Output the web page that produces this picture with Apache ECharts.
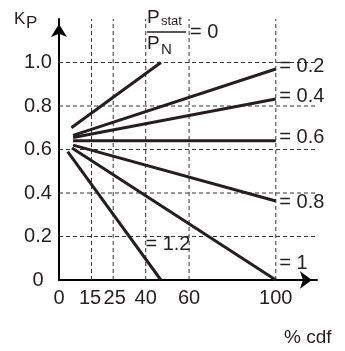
<!DOCTYPE html>
<html>
<head>
<meta charset="utf-8">
<script src="https://cdn.jsdelivr.net/npm/echarts@6/dist/echarts.min.js"></script>
<style>
  html, body { margin: 0; padding: 0; background: #fff; }
  #chart { width: 345px; height: 351px; }
</style>
</head>
<body>
<div id="chart"></div>
<script>
// tick values / labels
const xTicks = [0, 15, 25, 40, 60, 100];
const yTicks = [0, 0.2, 0.4, 0.6, 0.8, 1.0];
const yLabels = ["0", "0.2", "0.4", "0.6", "0.8", "1.0"];
const xGrid = [15, 25, 40, 60, 100];
const yGrid = [0.2, 0.4, 0.6, 0.8, 1.0];

// lines: [start, end] in (%cdf, Kp)
const ratioNames = ["= 0", "= 0.2", "= 0.4", "= 0.6", "= 0.8", "= 1", "= 1.2"];
const lineStarts = [[5.7, 0.70], [6.5, 0.665], [6.5, 0.655], [6.5, 0.64], [6.5, 0.62], [6, 0.607], [4, 0.59]];
const lineEnds = [[47, 1.0], [100, 0.97], [100, 0.832], [100, 0.64], [100, 0.363], [100, 0], [47, 0]];

const ink = "#231f20";
const font = "Liberation Sans";

// where each end label sits relative to the line end (px)
const labelOffsets = [null, [0, -3], [0, -3], [0, -3], [0, 1], [0, -17], [-19, -36]];

const gridSeries = [];
yGrid.forEach((v) => {
  gridSeries.push({
    type: "line", silent: true, symbol: "none", z: 1,
    lineStyle: { color: "#333", width: 1, type: [4, 3] },
    data: [[0, v], [119, v]],
  });
});
xGrid.forEach((v) => {
  gridSeries.push({
    type: "line", silent: true, symbol: "none", z: 1,
    lineStyle: { color: "#333", width: 1, type: [4, 3] },
    data: [[v, 0], [v, 1.2]],
  });
});

const mainSeries = ratioNames.map((name, i) => {
  const endItem = { value: lineEnds[i] };
  if (labelOffsets[i]) {
    endItem.label = {
      show: true,
      position: "right",
      distance: 3,
      offset: labelOffsets[i],
      formatter: name,
      fontFamily: font,
      fontSize: 20,
      color: ink,
    };
  }
  return {
    name,
    type: "line",
    z: 3,
    symbol: "circle",
    symbolSize: 1,
    showSymbol: true,
    itemStyle: { color: "rgba(0,0,0,0)" },
    lineStyle: { color: ink, width: 3 },
    data: [lineStarts[i], endItem],
  };
});

// nudge crowded x labels apart a little (15 / 25)
const xLabelPad = { 15: [0, 3, 0, 0], 25: [0, 0, 0, 3] };

const chart = echarts.init(document.getElementById("chart"));
chart.setOption({
  animation: false,
  grid: { left: 59, right: 28, top: 19, bottom: 71 },
  xAxis: {
    type: "value",
    min: 0,
    max: 119,
    axisLine: {
      lineStyle: { color: "#000", width: 2 },
      symbol: ["none", "arrow"],
      symbolSize: [13, 12],
      symbolOffset: [0, -5],
    },
    axisTick: { show: false },
    splitLine: { show: false },
    axisLabel: {
      customValues: xTicks,
      margin: 8,
      fontFamily: font,
      fontSize: 20,
      color: ink,
      formatter: (v) => (xLabelPad[v] ? "{p" + v + "|" + v + "}" : String(v)),
      rich: {
        p15: { padding: xLabelPad[15], fontFamily: font, fontSize: 20, color: ink },
        p25: { padding: xLabelPad[25], fontFamily: font, fontSize: 20, color: ink },
      },
    },
  },
  yAxis: {
    type: "value",
    min: 0,
    max: 1.2,
    interval: 0.2,
    axisLine: {
      show: true,
      lineStyle: { color: "#000", width: 2 },
      symbol: ["none", "arrow"],
      symbolSize: [12, 13],
      symbolOffset: [0, -5],
    },
    axisTick: { show: false },
    splitLine: { show: false },
    axisLabel: {
      margin: 21,
      align: "center",
      fontFamily: font,
      fontSize: 20,
      color: ink,
      formatter: (v) => {
        const k = yTicks.findIndex((t) => Math.abs(t - v) < 1e-6);
        return k >= 0 ? yLabels[k] : "";
      },
    },
  },
  graphic: [
    { type: "text", x: 14, y: 19, style: { text: "K", font: "17px " + font, fill: ink, verticalAlign: "middle" } },
    { type: "text", x: 26, y: 23, style: { text: "P", font: "17px " + font, fill: ink, verticalAlign: "middle" } },
    { type: "text", x: 147, y: 18, style: { text: "P", font: "19px " + font, fill: ink, verticalAlign: "middle" } },
    { type: "text", x: 161, y: 21, style: { text: "stat", font: "13px " + font, fill: ink, verticalAlign: "middle" } },
    { type: "line", shape: { x1: 147, y1: 32, x2: 186, y2: 32 }, style: { stroke: ink, lineWidth: 1.5 } },
    { type: "text", x: 147, y: 44, style: { text: "P", font: "19px " + font, fill: ink, verticalAlign: "middle" } },
    { type: "text", x: 161, y: 50, style: { text: "N", font: "15px " + font, fill: ink, verticalAlign: "middle" } },
    { type: "text", x: 190, y: 32, style: { text: "= 0", font: "20px " + font, fill: ink, verticalAlign: "middle" } },
    { type: "text", x: 284, y: 338, style: { text: "% cdf", font: "19px " + font, fill: ink, verticalAlign: "middle" } },
  ],
  series: [...gridSeries, ...mainSeries],
});
</script>
</body>
</html>
